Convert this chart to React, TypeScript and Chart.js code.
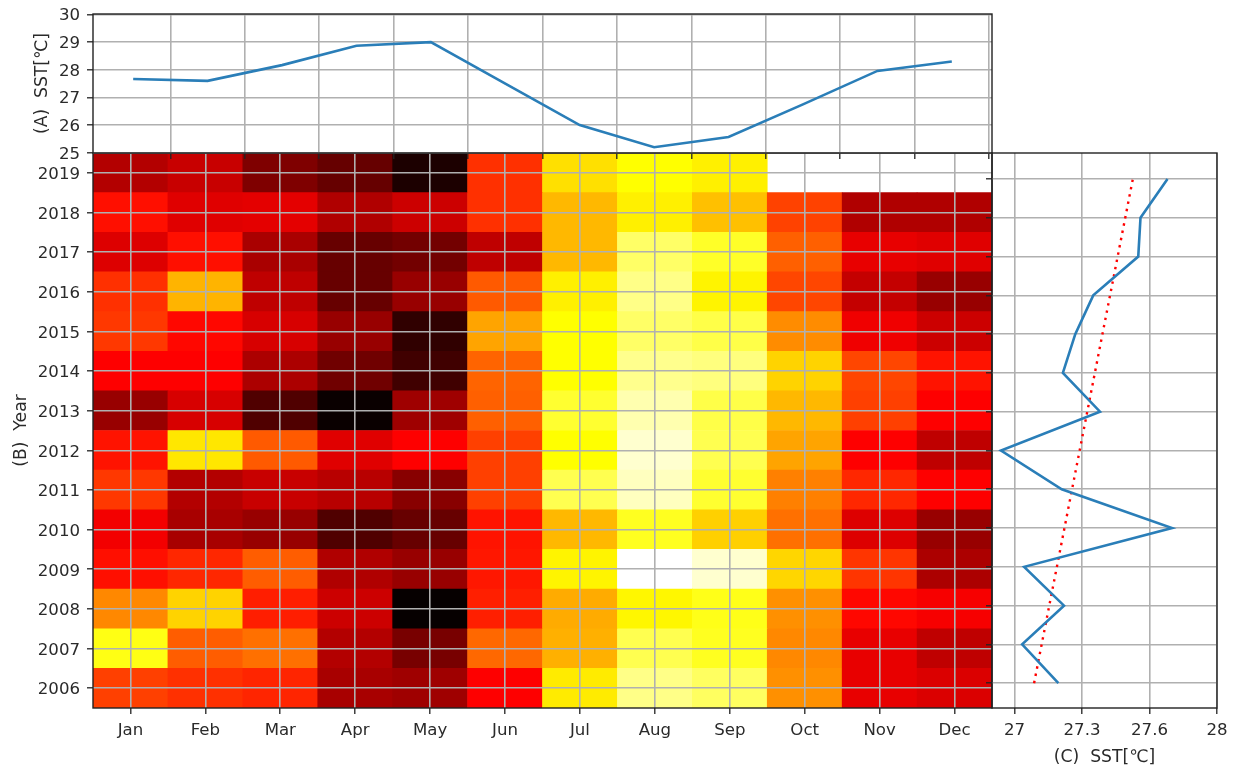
import React, { useEffect, useRef } from "react";
import { Chart, registerables } from "chart.js";

Chart.register(...registerables);

const months = ["Jan", "Feb", "Mar", "Apr", "May", "Jun", "Jul", "Aug", "Sep", "Oct", "Nov", "Dec"];
const years = [2006, 2007, 2008, 2009, 2010, 2011, 2012, 2013, 2014, 2015, 2016, 2017, 2018, 2019];

// (A) monthly climatology
const monthPositions = [0.5, 1.5, 2.5, 3.5, 4.5, 5.5, 6.5, 7.5, 8.5, 9.5, 10.5, 11.5];
const monthlySst = [27.67, 27.6, 28.17, 28.87, 29.0, 27.5, 26.0, 25.2, 25.57, 26.75, 27.96, 28.3];
const topXTicks = [1, 2, 3, 4, 5, 6, 7, 8, 9, 10, 11, 12];
const topYTicks = [25, 26, 27, 28, 29, 30];

// (B) SST by month for each year
const sst2006 = [27.2, 27.32, 27.4, 28.3, 28.36, 27.68, 25.92, 25.1, 25.29, 26.6, 27.84, 27.93];
const sst2007 = [25.67, 26.98, 26.84, 28.22, 28.64, 26.9, 26.36, 25.37, 25.61, 26.66, 27.84, 28.13];
const sst2008 = [26.66, 26.1, 27.45, 28.04, 29.46, 27.44, 26.4, 25.83, 25.65, 26.6, 27.62, 27.73];
const sst2009 = [27.56, 27.38, 26.98, 28.24, 28.41, 27.5, 25.85, 24.5, 24.74, 26.08, 27.28, 28.27];
const sst2010 = [27.76, 28.3, 28.41, 28.93, 28.76, 27.53, 26.3, 25.61, 26.12, 26.84, 27.92, 28.41];
const sst2011 = [27.26, 28.22, 28.07, 28.18, 28.53, 27.2, 25.37, 24.82, 25.53, 26.72, 27.38, 27.68];
const sst2012 = [27.53, 25.95, 27.0, 27.9, 27.68, 27.2, 25.77, 24.74, 25.37, 26.45, 27.68, 28.13];
const sst2013 = [28.41, 27.96, 28.93, 29.43, 28.36, 26.96, 25.53, 24.9, 25.41, 26.3, 27.2, 27.68];
const sst2014 = [27.68, 27.68, 28.27, 28.7, 29.04, 26.93, 25.77, 25.07, 25.14, 26.1, 27.15, 27.53];
const sst2015 = [27.26, 27.62, 27.96, 28.41, 29.16, 26.45, 25.77, 25.26, 25.41, 26.63, 27.78, 28.04];
const sst2016 = [27.32, 26.33, 28.13, 28.76, 28.41, 27.0, 25.88, 25.1, 25.85, 27.15, 28.1, 28.41];
const sst2017 = [27.92, 27.56, 28.29, 28.76, 28.68, 28.13, 26.3, 25.26, 25.57, 26.96, 27.84, 27.9];
const sst2018 = [27.56, 27.9, 27.87, 28.24, 28.04, 27.32, 26.3, 25.88, 26.24, 27.18, 28.24, 28.24];
const sst2019 = [28.22, 28.07, 28.59, 28.77, 29.3, 27.32, 26.0, 25.77, 25.88, null, null, null];
const heatRows = [sst2006, sst2007, sst2008, sst2009, sst2010, sst2011, sst2012, sst2013, sst2014, sst2015, sst2016, sst2017, sst2018, sst2019];
const sstLow = 24.5;
const sstHigh = 29.5;

// (C) annual mean and trend
const annualSst = [27.195, 27.034, 27.22, 27.043, 27.7, 27.21, 26.94, 27.38, 27.215, 27.27, 27.35, 27.55, 27.56, 27.68];
const trendYears = [2006, 2019];
const trendSst = [27.087, 27.526];
const rightXTicks = [27, 27.3, 27.6, 27.9];
const rightXLabels = ["27", "27.3", "27.6", "28"];

const FONT = { family: "'DejaVu Sans'", size: 16.6 };
const TITLE_FONT = { family: "'DejaVu Sans'", size: 17.2 };
const TEXT = "#2a2a2a";
const GRID = "#b0b0b0";
const SPINE = "#222222";
const BLUE = "#2a7eb8";

const clip01 = (v: number) => Math.max(0, Math.min(1, v));
function hotReversed(v: number | null): string {
  if (v === null) return "rgba(0,0,0,0)";
  const t = (sstHigh - v) / (sstHigh - sstLow);
  const r = clip01(t / 0.365);
  const g = clip01((t - 0.365) / 0.381);
  const b = clip01((t - 0.746) / 0.254);
  return `rgb(${Math.round(r * 255)},${Math.round(g * 255)},${Math.round(b * 255)})`;
}

const frame = {
  id: "frame",
  afterDraw(chart: any) {
    const { ctx, chartArea: a } = chart;
    ctx.save();
    ctx.strokeStyle = SPINE;
    ctx.lineWidth = 1.4;
    ctx.strokeRect(a.left, a.top, a.right - a.left, a.bottom - a.top);
    ctx.restore();
  },
};

const fixedTicks = (vals: number[]) => (s: any) => {
  s.ticks = vals.map((value) => ({ value }));
};
const sizeTo = (dim: "width" | "height", size: number) => (s: any) => {
  s[dim] = size;
  s.paddingLeft = 0;
  s.paddingRight = 0;
  s.paddingTop = 0;
  s.paddingBottom = 0;
};
const gridOpts = (z = 0) => ({ color: GRID, lineWidth: 1.6, tickColor: SPINE, tickLength: 6, tickWidth: 1.3, z });
const baseOptions = {
  animation: false as const,
  responsive: false,
  maintainAspectRatio: false,
  events: [] as string[],
};
const noPlugins = { legend: { display: false }, tooltip: { enabled: false } };

function heatConfig(): any {
  return {
    type: "bar",
    data: {
      labels: months,
      datasets: years.map((year, r) => ({
        label: String(year),
        data: heatRows[r].map((v) => (v === null ? null : [year - 0.5, year + 0.5])),
        backgroundColor: heatRows[r].map(hotReversed),
        borderWidth: 0,
        grouped: false,
        barPercentage: 1,
        categoryPercentage: 1,
      })),
    },
    options: {
      ...baseOptions,
      layout: { padding: { left: 0, top: 153, right: 243, bottom: 0 } },
      plugins: noPlugins,
      scales: {
        x: {
          type: "category",
          offset: true,
          grid: { ...gridOpts(1), offset: false },
          border: { display: false },
          ticks: { font: FONT, color: TEXT, autoSkip: false, maxRotation: 0, padding: 7 },
          afterFit: sizeTo("height", 61),
        },
        y: {
          type: "linear",
          min: 2005.5,
          max: 2019.5,
          grid: gridOpts(1),
          border: { display: false },
          afterBuildTicks: fixedTicks(years),
          ticks: { font: FONT, color: TEXT, padding: 7, labelOffset: 2, autoSkip: false, callback: (v: number) => String(v) },
          title: { display: true, text: "(B)  Year", font: TITLE_FONT, color: TEXT, padding: { top: 11, bottom: 0 } },
          afterFit: sizeTo("width", 93),
        },
      },
    },
    plugins: [frame],
  };
}

function topConfig(): any {
  return {
    type: "line",
    data: {
      datasets: [{
        data: monthPositions.map((x, i) => ({ x, y: monthlySst[i] })),
        borderColor: BLUE,
        borderWidth: 2.6,
        pointRadius: 0,
        tension: 0,
      }],
    },
    options: {
      ...baseOptions,
      layout: { padding: { left: 0, top: 14, right: 243, bottom: 610 } },
      plugins: noPlugins,
      scales: {
        x: {
          type: "linear",
          min: -0.04,
          max: 12.04,
          grid: gridOpts(),
          border: { display: false },
          afterBuildTicks: fixedTicks(topXTicks),
          ticks: { display: false, autoSkip: false },
          afterFit: sizeTo("height", 6),
        },
        y: {
          type: "linear",
          min: 24.99,
          max: 30.02,
          grid: gridOpts(),
          border: { display: false },
          afterBuildTicks: fixedTicks(topYTicks),
          ticks: { font: FONT, color: TEXT, padding: 7, labelOffset: 1.5, autoSkip: false, callback: (v: number) => String(v) },
          title: { display: true, text: "(A)  SST[℃]", font: TITLE_FONT, color: TEXT, padding: { top: 32, bottom: 0 } },
          afterFit: sizeTo("width", 93),
        },
      },
    },
    plugins: [frame],
  };
}

function rightConfig(): any {
  return {
    type: "scatter",
    data: {
      datasets: [
        {
          data: years.map((y, i) => ({ x: annualSst[i], y })),
          showLine: true,
          borderColor: BLUE,
          borderWidth: 2.6,
          pointRadius: 0,
          tension: 0,
        },
        {
          data: trendYears.map((y, i) => ({ x: trendSst[i], y })),
          showLine: true,
          borderColor: "#ff0000",
          borderWidth: 2.4,
          borderDash: [2.4, 5],
          pointRadius: 0,
          tension: 0,
        },
      ],
    },
    options: {
      ...baseOptions,
      layout: { padding: { left: 0, top: 153, right: 18, bottom: 0 } },
      plugins: noPlugins,
      scales: {
        x: {
          type: "linear",
          min: 26.9,
          max: 27.9,
          grid: gridOpts(),
          border: { display: false },
          afterBuildTicks: fixedTicks(rightXTicks),
          ticks: {
            font: FONT,
            color: TEXT,
            padding: 7,
            autoSkip: false,
            maxRotation: 0,
            callback: (v: number) => rightXLabels[rightXTicks.indexOf(v)] ?? "",
          },
          title: { display: true, text: "(C)  SST[℃]", font: TITLE_FONT, color: TEXT, padding: { top: 0, bottom: 1.5 } },
          afterFit: sizeTo("height", 61),
        },
        y: {
          type: "linear",
          min: 2005.36,
          max: 2019.67,
          grid: gridOpts(),
          border: { display: false },
          afterBuildTicks: fixedTicks(years),
          ticks: { display: false, autoSkip: false },
          afterFit: sizeTo("width", 992),
        },
      },
    },
    plugins: [frame],
  };
}

function Panel({ config }: { config: () => any }) {
  const ref = useRef<HTMLCanvasElement | null>(null);
  useEffect(() => {
    const chart = new Chart(ref.current as HTMLCanvasElement, config());
    return () => chart.destroy();
  }, [config]);
  return (
    <canvas
      ref={ref}
      width={1235}
      height={769}
      style={{ position: "absolute", left: 0, top: 0, width: 1235, height: 769 }}
    />
  );
}

export default function App() {
  return (
    <div style={{ position: "absolute", left: 0, top: 0, width: 1235, height: 769, overflow: "hidden", background: "#fff" }}>
      <Panel config={heatConfig} />
      <Panel config={topConfig} />
      <Panel config={rightConfig} />
    </div>
  );
}
